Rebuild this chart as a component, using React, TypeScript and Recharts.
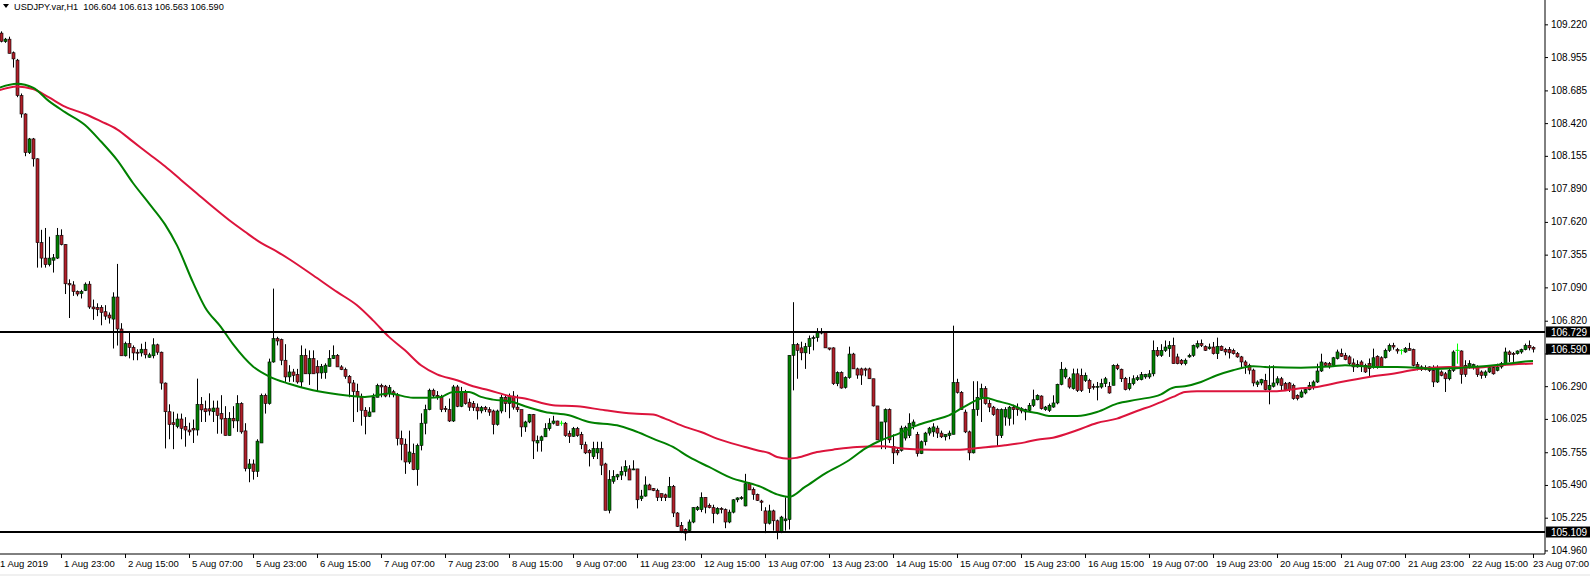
import React from 'react';
import { ComposedChart, Bar, Line, XAxis, YAxis, ReferenceLine } from 'recharts';

// USDJPY.var H1, 1 Aug 07:00 .. 23 Aug 07:00 (one bar per hour, 385 bars)
const timeLabels = [
  '1 Aug 2019', '1 Aug 23:00', '2 Aug 15:00', '5 Aug 07:00', '5 Aug 23:00',
  '6 Aug 15:00', '7 Aug 07:00', '7 Aug 23:00', '8 Aug 15:00', '9 Aug 07:00',
  '11 Aug 23:00', '12 Aug 15:00', '13 Aug 07:00', '13 Aug 23:00', '14 Aug 15:00',
  '15 Aug 07:00', '15 Aug 23:00', '16 Aug 15:00', '19 Aug 07:00', '19 Aug 23:00',
  '20 Aug 15:00', '21 Aug 07:00', '21 Aug 23:00', '22 Aug 15:00', '23 Aug 07:00',
];

const priceTicks = [
  109.22, 108.955, 108.685, 108.42, 108.155, 107.89, 107.62, 107.355, 107.09,
  106.82, 106.555, 106.29, 106.025, 105.755, 105.49, 105.225, 104.96,
];

const levels = [106.729, 105.109];
const lastPrice = 106.59;
const title = 'USDJPY.var,H1  106.604 106.613 106.563 106.590';

const opens = [
  109.13, 109.149, 109.08, 109.10, 108.99, 108.93, 108.643, 108.494, 108.181, 108.292,
  108.131, 107.452, 107.327, 107.274, 107.31, 107.327, 107.512, 107.437, 107.12, 107.11,
  107.056, 107.04, 107.065, 107.116, 106.931, 106.928, 106.928, 106.893, 106.866, 106.833,
  107.012, 106.753, 106.536, 106.634, 106.604, 106.565, 106.559, 106.589, 106.524, 106.536,
  106.625, 106.565, 106.315, 106.083, 105.994, 105.964, 106.024, 105.964, 105.935, 105.949,
  105.935, 106.143, 106.107, 106.107, 106.083, 106.113, 106.068, 106.03, 105.89, 106.03,
  106.009, 106.149, 105.928, 105.622, 105.66, 105.60, 105.83, 106.216, 106.149, 106.486,
  106.675, 106.667, 106.50, 106.365, 106.405, 106.385, 106.324, 106.54, 106.39, 106.513,
  106.45, 106.397, 106.40, 106.45, 106.513, 106.54, 106.446, 106.424, 106.37, 106.316,
  106.248, 106.208, 106.095, 106.046, 106.081, 106.20, 106.297, 106.29, 106.23, 106.245,
  106.22, 105.865, 105.82, 105.676, 105.745, 105.614, 105.81, 105.99, 106.10, 106.257,
  106.216, 106.20, 106.11, 106.10, 106.008, 106.284, 106.127, 106.243, 106.16, 106.149,
  106.12, 106.09, 106.116, 106.10, 106.089, 105.98, 106.089, 106.20, 106.15, 106.21,
  106.12, 106.10, 105.96, 106.00, 106.06, 105.83, 105.85, 105.88, 105.946, 105.99,
  106.008, 105.99, 105.99, 105.906, 105.884, 105.946, 105.90, 105.816, 105.77, 105.72,
  105.75, 105.784, 105.66, 105.285, 105.52, 105.555, 105.57, 105.60, 105.62, 105.615,
  105.62, 105.38, 105.40, 105.49, 105.46, 105.445, 105.42, 105.41, 105.39, 105.479,
  105.263, 105.163, 105.13, 105.12, 105.19, 105.29, 105.29, 105.39, 105.325, 105.306,
  105.26, 105.30, 105.29, 105.19, 105.27, 105.37, 105.379, 105.32, 105.50, 105.455,
  105.414, 105.36, 105.28, 105.18, 105.28, 105.20, 105.11, 105.20, 105.21, 106.54,
  106.626, 106.60, 106.56, 106.61, 106.675, 106.683, 106.72, 106.729, 106.60, 106.60,
  106.31, 106.40, 106.28, 106.36, 106.55, 106.43, 106.43, 106.43, 106.43, 106.35,
  106.13, 105.855, 106.00, 106.10, 105.80, 105.77, 105.77, 105.87, 105.89, 105.97,
  105.90, 105.744, 105.84, 105.91, 105.92, 105.95, 105.91, 105.88, 105.89, 105.90,
  106.32, 106.24, 106.08, 105.92, 105.75, 106.10, 106.20, 106.27, 106.15, 106.12,
  106.10, 105.89, 106.04, 106.03, 106.12, 106.12, 106.108, 106.081, 106.094, 106.135,
  106.18, 106.21, 106.10, 106.094, 106.121, 106.154, 106.305, 106.365, 106.35, 106.27,
  106.39, 106.378, 106.337, 106.337, 106.289, 106.283, 106.283, 106.31, 106.289, 106.297,
  106.459, 106.427, 106.353, 106.27, 106.31, 106.343, 106.343, 106.365, 106.365, 106.39,
  106.58, 106.54, 106.58, 106.594, 106.62, 106.527, 106.50, 106.472, 106.527, 106.54,
  106.607, 106.635, 106.61, 106.594, 106.607, 106.553, 106.613, 106.588, 106.588, 106.58,
  106.553, 106.527, 106.486, 106.459, 106.42, 106.305, 106.316, 106.337, 106.262, 106.289,
  106.316, 106.35, 106.31, 106.316, 106.297, 106.216, 106.202, 106.235, 106.262, 106.283,
  106.324, 106.413, 106.478, 106.472, 106.459, 106.514, 106.553, 106.54, 106.527, 106.478,
  106.467, 106.486, 106.459, 106.472, 106.446, 106.532, 106.52, 106.52, 106.58, 106.62,
  106.586, 106.58, 106.567, 106.594, 106.586, 106.464, 106.446, 106.44, 106.446, 106.418,
  106.324, 106.405, 106.39, 106.35, 106.418, 106.58, 106.575, 106.459, 106.446, 106.44,
  106.446, 106.405, 106.378, 106.405, 106.44, 106.418, 106.446, 106.472, 106.567, 106.556,
  106.553, 106.567, 106.586, 106.62, 106.604,
];

const highs = [
  109.17, 109.163, 109.11, 109.12, 109.00, 108.94, 108.66, 108.50, 108.30, 108.30,
  108.135, 107.556, 107.571, 107.50, 107.36, 107.571, 107.56, 107.44, 107.155, 107.14,
  107.065, 107.07, 107.13, 107.14, 106.991, 106.961, 106.946, 106.946, 106.887, 107.05,
  107.28, 106.80, 106.65, 106.723, 106.62, 106.589, 106.634, 106.649, 106.56, 106.678,
  106.634, 106.57, 106.32, 106.143, 106.083, 106.068, 106.068, 106.039, 105.994, 106.02,
  106.351, 106.202, 106.173, 106.232, 106.173, 106.173, 106.217, 106.128, 106.08, 106.128,
  106.217, 106.16, 105.99, 105.70, 105.696, 105.86, 106.23, 106.23, 106.513, 107.08,
  106.69, 106.675, 106.63, 106.46, 106.43, 106.43, 106.62, 106.594, 106.58, 106.58,
  106.50, 106.47, 106.475, 106.582, 106.62, 106.55, 106.46, 106.44, 106.38, 106.34,
  106.31, 106.23, 106.12, 106.12, 106.23, 106.31, 106.31, 106.30, 106.30, 106.26,
  106.235, 105.93, 105.865, 105.93, 105.825, 105.825, 106.07, 106.14, 106.27, 106.27,
  106.25, 106.22, 106.13, 106.19, 106.30, 106.30, 106.284, 106.26, 106.19, 106.17,
  106.15, 106.13, 106.13, 106.12, 106.10, 106.10, 106.22, 106.22, 106.23, 106.25,
  106.22, 106.10, 106.01, 106.065, 106.065, 105.89, 105.89, 105.99, 106.03, 106.05,
  106.01, 106.01, 106.00, 105.93, 105.96, 105.96, 105.92, 105.84, 105.78, 105.84,
  105.84, 105.84, 105.67, 105.61, 105.61, 105.58, 105.64, 105.69, 105.65, 105.69,
  105.62, 105.45, 105.56, 105.50, 105.465, 105.46, 105.42, 105.42, 105.555, 105.49,
  105.27, 105.19, 105.14, 105.21, 105.31, 105.32, 105.43, 105.39, 105.34, 105.33,
  105.31, 105.31, 105.30, 105.29, 105.375, 105.39, 105.40, 105.58, 105.51, 105.47,
  105.42, 105.37, 105.31, 105.33, 105.29, 105.21, 105.24, 105.39, 106.54, 106.97,
  106.64, 106.65, 106.64, 106.70, 106.70, 106.76, 106.76, 106.73, 106.60, 106.605,
  106.41, 106.41, 106.37, 106.61, 106.56, 106.44, 106.44, 106.44, 106.44, 106.35,
  106.13, 106.00, 106.11, 106.11, 105.90, 105.79, 105.97, 105.97, 106.07, 106.02,
  105.92, 105.85, 105.92, 105.96, 105.99, 105.97, 105.93, 105.90, 105.93, 106.78,
  106.35, 106.25, 106.10, 105.93, 106.33, 106.33, 106.31, 106.29, 106.18, 106.13,
  106.11, 106.11, 106.12, 106.13, 106.14, 106.15, 106.12, 106.108, 106.154, 106.262,
  106.224, 106.216, 106.13, 106.149, 106.216, 106.31, 106.486, 106.44, 106.365, 106.432,
  106.432, 106.432, 106.40, 106.35, 106.31, 106.324, 106.35, 106.365, 106.324, 106.467,
  106.472, 106.432, 106.365, 106.365, 106.378, 106.378, 106.405, 106.39, 106.42, 106.66,
  106.607, 106.63, 106.66, 106.655, 106.683, 106.553, 106.51, 106.514, 106.553, 106.627,
  106.66, 106.668, 106.62, 106.635, 106.648, 106.683, 106.62, 106.60, 106.607, 106.594,
  106.567, 106.535, 106.50, 106.472, 106.432, 106.337, 106.35, 106.39, 106.459, 106.459,
  106.37, 106.365, 106.324, 106.324, 106.31, 106.224, 106.262, 106.27, 106.324, 106.337,
  106.472, 106.553, 106.486, 106.486, 106.527, 106.586, 106.594, 106.56, 106.54, 106.514,
  106.50, 106.50, 106.472, 106.514, 106.594, 106.54, 106.532, 106.594, 106.635, 106.641,
  106.60, 106.59, 106.607, 106.641, 106.594, 106.486, 106.459, 106.459, 106.45, 106.459,
  106.459, 106.418, 106.405, 106.432, 106.58, 106.635, 106.58, 106.50, 106.50, 106.472,
  106.459, 106.418, 106.418, 106.45, 106.446, 106.472, 106.486, 106.602, 106.58, 106.567,
  106.58, 106.594, 106.635, 106.66, 106.613,
];

const lows = [
  109.12, 109.074, 109.07, 108.985, 108.87, 108.63, 108.464, 108.152, 108.17, 108.068,
  107.25, 107.25, 107.25, 107.26, 107.21, 107.32, 107.43, 107.036, 106.842, 107.021,
  107.018, 107.00, 107.06, 106.916, 106.827, 106.857, 106.783, 106.827, 106.797, 106.595,
  106.619, 106.536, 106.53, 106.515, 106.50, 106.50, 106.53, 106.515, 106.52, 106.515,
  106.544, 106.262, 105.786, 105.86, 105.78, 105.949, 105.86, 105.80, 105.89, 105.83,
  105.89, 106.00, 106.00, 106.053, 106.00, 105.905, 105.905, 105.89, 105.89, 105.95,
  105.92, 105.905, 105.60, 105.512, 105.533, 105.555, 105.83, 106.068, 106.14, 106.48,
  106.62, 106.46, 106.325, 106.325, 106.325, 106.31, 106.28, 106.39, 106.30, 106.39,
  106.246, 106.35, 106.35, 106.45, 106.51, 106.446, 106.42, 106.35, 106.20, 106.00,
  106.08, 105.97, 105.90, 106.04, 106.08, 106.20, 106.20, 106.20, 106.20, 106.20,
  105.81, 105.69, 105.58, 105.66, 105.61, 105.484, 105.77, 105.90, 106.095, 106.20,
  106.18, 106.08, 106.08, 106.00, 106.00, 106.12, 106.12, 106.14, 106.09, 106.09,
  106.02, 106.07, 106.08, 106.05, 105.90, 105.97, 106.07, 106.08, 106.03, 106.10,
  106.08, 105.88, 105.92, 105.99, 105.70, 105.76, 105.76, 105.88, 105.93, 105.98,
  105.973, 105.97, 105.88, 105.83, 105.88, 105.88, 105.78, 105.74, 105.64, 105.70,
  105.70, 105.57, 105.285, 105.26, 105.50, 105.53, 105.53, 105.56, 105.53, 105.61,
  105.30, 105.36, 105.395, 105.45, 105.44, 105.36, 105.36, 105.36, 105.39, 105.23,
  105.15, 105.10, 105.04, 105.11, 105.18, 105.28, 105.27, 105.26, 105.30, 105.18,
  105.25, 105.26, 105.14, 105.18, 105.26, 105.35, 105.37, 105.317, 105.45, 105.37,
  105.36, 105.28, 105.10, 105.17, 105.12, 105.05, 105.10, 105.12, 105.13, 106.256,
  106.35, 106.50, 106.43, 106.55, 106.58, 106.65, 106.71, 106.60, 106.58, 106.30,
  106.29, 106.27, 106.27, 106.35, 106.43, 106.35, 106.30, 106.37, 106.35, 106.125,
  105.855, 105.78, 105.78, 105.83, 105.66, 105.73, 105.76, 105.85, 105.87, 105.94,
  105.72, 105.74, 105.81, 105.89, 105.88, 105.87, 105.87, 105.85, 105.86, 105.90,
  106.23, 106.10, 105.91, 105.69, 105.745, 106.05, 106.00, 106.14, 106.08, 106.05,
  105.80, 105.87, 105.97, 105.97, 105.98, 106.05, 106.07, 106.014, 106.081, 106.121,
  106.175, 106.10, 106.09, 106.081, 106.115, 106.143, 106.297, 106.35, 106.27, 106.262,
  106.243, 106.243, 106.324, 106.235, 106.262, 106.175, 106.27, 106.283, 106.229, 106.297,
  106.42, 106.324, 106.256, 106.256, 106.297, 106.332, 106.337, 106.35, 106.35, 106.37,
  106.527, 106.527, 106.567, 106.527, 106.472, 106.467, 106.46, 106.459, 106.52, 106.527,
  106.594, 106.607, 106.575, 106.586, 106.546, 106.51, 106.575, 106.54, 106.514, 106.546,
  106.52, 106.432, 106.39, 106.386, 106.289, 106.283, 106.297, 106.256, 106.143, 106.279,
  106.297, 106.256, 106.256, 106.243, 106.18, 106.175, 106.196, 106.224, 106.256, 106.262,
  106.316, 106.405, 106.45, 106.432, 106.446, 106.506, 106.527, 106.50, 106.459, 106.405,
  106.44, 106.405, 106.397, 106.365, 106.432, 106.432, 106.44, 106.514, 106.567, 106.586,
  106.553, 106.546, 106.56, 106.58, 106.45, 106.418, 106.413, 106.418, 106.405, 106.283,
  106.316, 106.37, 106.243, 106.337, 106.405, 106.472, 106.31, 106.365, 106.432, 106.424,
  106.365, 106.35, 106.357, 106.397, 106.383, 106.41, 106.432, 106.459, 106.486, 106.486,
  106.546, 106.553, 106.58, 106.58, 106.563,
];

const closes = [
  109.15, 109.083, 109.10, 108.985, 108.94, 108.643, 108.494, 108.181, 108.292, 108.131,
  107.452, 107.327, 107.274, 107.327, 107.33, 107.512, 107.437, 107.119, 107.11, 107.056,
  107.036, 107.056, 107.116, 106.931, 106.916, 106.91, 106.887, 106.857, 106.842, 107.012,
  106.753, 106.536, 106.634, 106.604, 106.559, 106.559, 106.589, 106.544, 106.544, 106.625,
  106.565, 106.315, 106.083, 105.979, 105.979, 106.024, 105.949, 105.935, 105.92, 105.935,
  106.143, 106.098, 106.083, 106.089, 106.113, 106.053, 106.024, 105.89, 106.03, 106.009,
  106.149, 105.92, 105.622, 105.66, 105.60, 105.845, 106.216, 106.149, 106.486, 106.675,
  106.656, 106.50, 106.365, 106.405, 106.378, 106.324, 106.54, 106.39, 106.513, 106.39,
  106.397, 106.45, 106.46, 106.513, 106.54, 106.446, 106.424, 106.37, 106.316, 106.248,
  106.208, 106.095, 106.046, 106.081, 106.20, 106.297, 106.284, 106.21, 106.28, 106.22,
  105.865, 105.82, 105.676, 105.757, 105.614, 105.81, 105.99, 106.10, 106.257, 106.216,
  106.20, 106.10, 106.10, 106.008, 106.284, 106.127, 106.243, 106.149, 106.12, 106.116,
  106.09, 106.116, 106.10, 106.08, 105.98, 106.089, 106.20, 106.149, 106.21, 106.12,
  106.10, 105.96, 106.00, 106.06, 105.846, 105.85, 105.88, 105.946, 105.99, 106.008,
  105.973, 105.99, 105.89, 105.884, 105.946, 105.89, 105.816, 105.75, 105.75, 105.784,
  105.784, 105.65, 105.285, 105.533, 105.56, 105.573, 105.60, 105.64, 105.53, 105.62,
  105.37, 105.40, 105.49, 105.45, 105.445, 105.39, 105.39, 105.387, 105.479, 105.263,
  105.155, 105.109, 105.10, 105.19, 105.306, 105.31, 105.387, 105.31, 105.306, 105.26,
  105.30, 105.29, 105.19, 105.27, 105.37, 105.385, 105.387, 105.50, 105.45, 105.414,
  105.365, 105.35, 105.18, 105.28, 105.20, 105.109, 105.23, 105.215, 106.54, 106.626,
  106.58, 106.56, 106.61, 106.675, 106.683, 106.729, 106.73, 106.60, 106.59, 106.31,
  106.40, 106.275, 106.36, 106.55, 106.43, 106.38, 106.38, 106.42, 106.35, 106.13,
  105.855, 106.00, 106.10, 105.855, 105.75, 105.75, 105.95, 105.955, 105.99, 106.00,
  105.744, 105.84, 105.91, 105.95, 105.96, 105.91, 105.88, 105.90, 105.91, 106.32,
  106.24, 106.10, 105.92, 105.75, 106.10, 106.20, 106.27, 106.15, 106.12, 106.06,
  105.89, 106.10, 106.10, 106.12, 106.10, 106.10, 106.089, 106.10, 106.135, 106.18,
  106.216, 106.108, 106.121, 106.135, 106.154, 106.305, 106.427, 106.427, 106.283, 106.39,
  106.256, 106.256, 106.378, 106.27, 106.283, 106.289, 106.31, 106.35, 106.235, 106.459,
  106.432, 106.35, 106.262, 106.31, 106.35, 106.359, 106.383, 106.386, 106.39, 106.58,
  106.54, 106.58, 106.607, 106.62, 106.472, 106.472, 106.472, 106.50, 106.54, 106.62,
  106.635, 106.62, 106.58, 106.607, 106.553, 106.613, 106.58, 106.567, 106.56, 106.553,
  106.527, 106.486, 106.459, 106.42, 106.316, 106.324, 106.343, 106.262, 106.297, 106.316,
  106.35, 106.297, 106.262, 106.262, 106.189, 106.189, 106.243, 106.262, 106.297, 106.324,
  106.413, 106.486, 106.459, 106.446, 106.52, 106.567, 106.532, 106.506, 106.472, 106.446,
  106.446, 106.459, 106.405, 106.432, 106.52, 106.446, 106.446, 106.58, 106.62, 106.607,
  106.575, 106.58, 106.594, 106.58, 106.459, 106.446, 106.424, 106.424, 106.418, 106.324,
  106.427, 106.378, 106.35, 106.418, 106.567, 106.58, 106.386, 106.386, 106.472, 106.464,
  106.383, 106.378, 106.405, 106.44, 106.39, 106.446, 106.472, 106.567, 106.546, 106.546,
  106.575, 106.586, 106.62, 106.60, 106.59,
];

// moving averages at selected bars
const fastMaBars = [
  0, 5, 9, 13, 17, 22, 26, 30, 34, 38, 42, 45, 49, 52, 56, 59, 64, 68, 73, 79,
  85, 92, 98, 104, 108, 111, 114, 118, 121, 124, 129, 132, 137, 143, 148, 155, 159, 164, 169, 173,
  178, 184, 187, 191, 195, 198, 202, 207, 213, 217, 221, 225, 230, 234, 238, 242, 247, 250, 254, 257,
  260, 263, 270, 275, 280, 285, 291, 294, 297, 301, 305, 309, 314, 317, 326, 334, 337, 344, 350, 355,
  359, 364, 369, 373, 378, 382, 384,
];
const fastMaValues = [
  108.70, 108.738, 108.708, 108.598, 108.509, 108.405, 108.271, 108.122, 107.935, 107.77,
  107.6, 107.43, 107.13, 106.93, 106.768, 106.63, 106.45, 106.37, 106.31, 106.257,
  106.224, 106.203, 106.23, 106.197, 106.197, 106.203, 106.243, 106.243, 106.203, 106.181,
  106.162, 106.127, 106.081, 106.054, 106.0, 105.973, 105.933, 105.865, 105.798, 105.717,
  105.636, 105.541, 105.514, 105.474, 105.414, 105.393, 105.474, 105.582, 105.69, 105.784,
  105.852, 105.9, 105.973, 106.014, 106.054, 106.127, 106.197, 106.17, 106.135, 106.09,
  106.073, 106.049, 106.049, 106.081, 106.149, 106.181, 106.224, 106.278, 106.289, 106.324,
  106.378, 106.419, 106.451, 106.446, 106.44, 106.451, 106.459, 106.446, 106.446, 106.44,
  106.43, 106.435, 106.446, 106.456, 106.473, 106.49, 106.494,
];

const slowMaBars = [
  0, 5, 9, 13, 17, 22, 26, 30, 34, 38, 42, 46, 50, 54, 58, 62, 66, 70, 73, 79,
  85, 90, 94, 98, 102, 106, 110, 115, 119, 123, 128, 132, 139, 145, 152, 159, 164, 167, 172, 176,
  180, 187, 190, 193, 195, 198, 200, 205, 209, 215, 221, 227, 234, 240, 246, 252, 257, 260, 264, 270,
  275, 280, 285, 289, 294, 297, 300, 320, 325, 330, 336, 343, 350, 356, 363, 370, 376, 384,
];
const slowMaValues = [
  108.68, 108.717, 108.696, 108.628, 108.553, 108.494, 108.434, 108.37, 108.27, 108.17,
  108.07, 107.96, 107.85, 107.74, 107.635, 107.54, 107.45, 107.38, 107.32, 107.188,
  107.053, 106.945, 106.823, 106.689, 106.58, 106.459, 106.386, 106.338, 106.289, 106.257,
  106.211, 106.19, 106.135, 106.127, 106.095, 106.068, 106.06, 106.027, 105.96, 105.919,
  105.865, 105.798, 105.771, 105.749, 105.717, 105.703, 105.711, 105.757, 105.776, 105.798,
  105.803, 105.784, 105.776, 105.776, 105.792, 105.811, 105.835, 105.857, 105.873, 105.933,
  105.992, 106.027, 106.089, 106.135, 106.203, 106.243, 106.249, 106.249, 106.27, 106.284,
  106.324, 106.365, 106.397, 106.432, 106.446, 106.44, 106.459, 106.473,
];

const BARS_PER_LABEL = 16;
const FONT = '"Liberation Sans", Arial, sans-serif';
const CHART_W = 1590;

const rows = opens.map((o, i) => ({
  i,
  o,
  h: highs[i],
  l: lows[i],
  c: closes[i],
  range: [lows[i], highs[i]],
  fast: null as number | null,
  slow: null as number | null,
}));
fastMaBars.forEach((b, k) => { rows[b].fast = fastMaValues[k]; });
slowMaBars.forEach((b, k) => { rows[b].slow = slowMaValues[k]; });

const labelTicks = timeLabels.map((_, k) => (k === 0 ? 0.75 : k * BARS_PER_LABEL));

function Candle(props: any) {
  const { x, y, width, height, payload } = props;
  if (x == null || y == null || !payload) return null;
  const top = height < 0 ? y + height : y;
  const span = Math.abs(height);
  const { o, h, l, c } = payload;
  const ppu = h > l ? span / (h - l) : 0;
  const cx = Math.round(x + width / 2) + 0.5;
  const bodyTop = top + (h - Math.max(o, c)) * ppu;
  const bodyBot = top + (h - Math.min(o, c)) * ppu;
  if (o === c) {
    // doji: MT4 paints it in the line-graph colour
    return (
      <g>
        <line x1={cx} x2={cx} y1={top} y2={top + span} stroke="#00ff00" />
        <line x1={cx - 2} x2={cx + 2} y1={bodyTop} y2={bodyTop} stroke="#00ff00" />
      </g>
    );
  }
  const fill = c > o ? '#008000' : '#b0202a';
  return (
    <g>
      <line x1={cx} x2={cx} y1={top} y2={top + span} stroke="#000" />
      <rect
        x={cx - 1.5}
        y={bodyTop}
        width={3}
        height={Math.max(1, bodyBot - bodyTop)}
        fill={fill}
        stroke="#000"
        strokeWidth={0.6}
      />
    </g>
  );
}

function TimeTick(props: any) {
  const { x, y, payload } = props;
  const idx = Math.round(payload.value / BARS_PER_LABEL);
  const last = idx === timeLabels.length - 1;
  let tx = x + 3;
  let anchor: 'start' | 'end' = 'start';
  if (idx === 0) tx = 0;
  if (last) {
    tx = CHART_W - 1;
    anchor = 'end';
  }
  return (
    <g>
      {idx > 0 && <line x1={x + 0.5} x2={x + 0.5} y1={y - 4} y2={y} stroke="#000" />}
      <text x={tx} y={y + 9} fontSize={9.5} fontFamily={FONT} fill="#000" textAnchor={anchor}>
        {timeLabels[idx]}
      </text>
    </g>
  );
}

function PriceTick(props: any) {
  const { x, y, payload } = props;
  const hidden = Math.abs(payload.value - lastPrice) < 0.05;
  return (
    <g>
      <line x1={x - 7} x2={x - 4} y1={y + 0.5} y2={y + 0.5} stroke="#000" />
      {!hidden && (
        <text x={x - 1} y={y + 3.5} fontSize={10} fontFamily={FONT} fill="#000">
          {payload.value.toFixed(3)}
        </text>
      )}
    </g>
  );
}

function PriceTag(props: any) {
  const { viewBox, text } = props;
  if (!viewBox) return null;
  const right = viewBox.x + viewBox.width;
  const yy = viewBox.y;
  return (
    <g>
      <rect x={right + 1} y={yy - 5.5} width={44} height={11} fill="#000" />
      <text x={right + 6} y={yy + 4} fontSize={10} fontFamily={FONT} fill="#fff">
        {text}
      </text>
    </g>
  );
}

export default function App() {
  return (
    <div style={{ position: 'absolute', left: 0, top: 0, width: CHART_W, height: 576, background: '#fff' }}>
      <ComposedChart
        width={CHART_W}
        height={576}
        data={rows}
        margin={{ top: 0, right: 0, left: 0, bottom: 0 }}
      >
        <XAxis
          dataKey="i"
          type="number"
          domain={[0.75, 387]}
          allowDataOverflow
          ticks={labelTicks}
          interval={0}
          tick={<TimeTick />}
          tickLine={false}
          tickSize={4}
          tickMargin={0}
          axisLine={{ stroke: '#000' }}
          height={22}
        />
        <YAxis
          orientation="right"
          type="number"
          domain={[104.931, 109.417]}
          allowDataOverflow
          ticks={priceTicks}
          interval={0}
          tick={<PriceTick />}
          tickLine={false}
          tickSize={3}
          tickMargin={4}
          axisLine={{ stroke: '#000' }}
          width={45}
        />
        <Bar dataKey="range" barSize={3} shape={<Candle />} isAnimationActive={false} />
        <Line
          dataKey="slow"
          type="monotone"
          stroke="#dc143c"
          strokeWidth={2}
          dot={false}
          connectNulls
          isAnimationActive={false}
        />
        <Line
          dataKey="fast"
          type="monotone"
          stroke="#008000"
          strokeWidth={2}
          dot={false}
          connectNulls
          isAnimationActive={false}
        />
        {levels.map((lv) => (
          <ReferenceLine
            key={lv}
            y={lv}
            stroke="#000"
            strokeWidth={2}
            label={<PriceTag text={lv.toFixed(3)} />}
          />
        ))}
        <ReferenceLine
          y={lastPrice}
          stroke="none"
          label={<PriceTag text={lastPrice.toFixed(3)} />}
        />
      </ComposedChart>
      <svg width={300} height={14} style={{ position: 'absolute', left: 0, top: 0 }}>
        <polygon points="3,4 9,4 6,8" fill="#000" />
        <text x={14} y={9.5} fontSize={9.2} fontFamily={FONT} fill="#000" style={{ whiteSpace: 'pre' }}>
          {title}
        </text>
      </svg>
      <div style={{ position: 'absolute', left: 0, top: 574, width: CHART_W, height: 2, background: '#f0f0f0' }} />
    </div>
  );
}
